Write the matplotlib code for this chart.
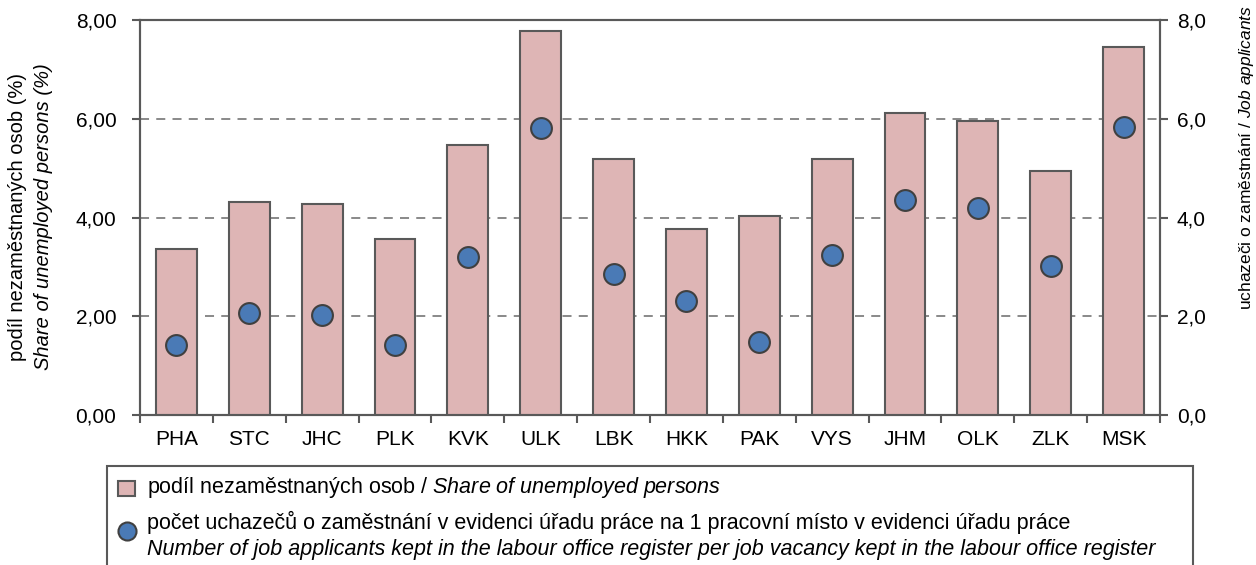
import matplotlib
matplotlib.use("Agg")
import matplotlib.pyplot as plt
from matplotlib.patches import Rectangle
from matplotlib.lines import Line2D
from matplotlib.ticker import FuncFormatter

plt.rcParams['font.family'] = ['Liberation Sans', 'DejaVu Sans']
plt.rcParams['mathtext.fontset'] = 'custom'
plt.rcParams['mathtext.rm'] = 'Liberation Sans'
plt.rcParams['mathtext.it'] = 'Liberation Sans:italic'

# data
regions = ['PHA', 'STC', 'JHC', 'PLK', 'KVK', 'ULK', 'LBK', 'HKK', 'PAK', 'VYS', 'JHM', 'OLK', 'ZLK', 'MSK']
share_unemployed = [3.36, 4.32, 4.28, 3.56, 5.46, 7.78, 5.18, 3.76, 4.04, 5.18, 6.12, 5.95, 4.94, 7.45]
applicants_per_vacancy = [1.42, 2.07, 2.03, 1.42, 3.20, 5.82, 2.85, 2.31, 1.48, 3.25, 4.35, 4.20, 3.02, 5.84]

W, H = 1256, 565
fig = plt.figure(figsize=(W / 100, H / 100), dpi=100)
ax = fig.add_axes([140 / W, 1 - 415 / H, 1020 / W, 395 / H])
ax2 = ax.twinx()

spine_c = '#595959'
x = list(range(len(regions)))

ax.bar(x, share_unemployed, width=0.56, color='#DEB5B5', edgecolor=spine_c, linewidth=1.5, zorder=3)
ax2.plot(x, applicants_per_vacancy, 'o', markersize=15, markerfacecolor='#4A7AB6',
         markeredgecolor='#404040', markeredgewidth=1.5, zorder=4)

for a in (ax, ax2):
    a.set_xlim(-0.5, len(regions) - 0.5)
    a.set_ylim(0, 8)
    a.set_yticks([0, 2, 4, 6, 8])
    for s in a.spines.values():
        s.set_color(spine_c)
        s.set_linewidth(1.5)

ax.yaxis.set_major_formatter(FuncFormatter(lambda v, p: f'{v:.2f}'.replace('.', ',')))
ax2.yaxis.set_major_formatter(FuncFormatter(lambda v, p: f'{v:.1f}'.replace('.', ',')))
ax.tick_params(axis='y', labelsize=15, length=6, width=1.5, color=spine_c, pad=11)
ax2.tick_params(axis='y', labelsize=15, length=6, width=1.5, color=spine_c, pad=6)

ax.set_xticks(x)
ax.set_xticklabels(regions)
ax.set_xticks([i - 0.5 for i in range(len(regions) + 1)], minor=True)
ax.tick_params(axis='x', which='major', length=0, labelsize=15, pad=11)
ax.tick_params(axis='x', which='minor', length=6, width=1.5, color=spine_c)

ax.yaxis.grid(True, linestyle=(0, (5, 4)), color='#808080', linewidth=1.3, zorder=0)
ax.set_axisbelow(True)

# axis titles
fig.text(18 / W, 1 - 217 / H, 'podíl nezaměstnaných osob (%)', rotation=90,
         ha='center', va='center', fontsize=14.5)
fig.text(44 / W, 1 - 217 / H, 'Share of unemployed persons (%)', rotation=90,
         ha='center', va='center', fontsize=14.5, style='italic')
fig.text(1247 / W, 1 - 158 / H, r'uchazeči o zaměstnání / $\it{Job\ applicants}$', rotation=90,
         ha='center', va='center', fontsize=12.5)

# legend box
fig.add_artist(Rectangle((107 / W, -0.1), 1086 / W, 0.1 + (1 - 466 / H), transform=fig.transFigure,
                         facecolor='white', edgecolor=spine_c, linewidth=1.5))
fig.add_artist(Rectangle((118 / W, 1 - 496 / H), 17 / W, 15 / H, transform=fig.transFigure,
                         facecolor='#DEB5B5', edgecolor=spine_c, linewidth=1.5))
fig.add_artist(Line2D([127 / W], [1 - 531 / H], transform=fig.transFigure, marker='o', markersize=13,
                      markerfacecolor='#4A7AB6', markeredgecolor='#404040', markeredgewidth=1.5))
fig.text(147 / W, 1 - 488 / H, r'podíl nezaměstnaných osob / $\it{Share\ of\ unemployed\ persons}$',
         ha='left', va='center', fontsize=15.5)
fig.text(147 / W, 1 - 522 / H,
         'počet uchazečů o zaměstnání v evidenci úřadu práce na 1 pracovní místo v evidenci úřadu práce',
         ha='left', va='center', fontsize=15.5)
fig.text(147 / W, 1 - 549 / H,
         'Number of job applicants kept in the labour office register per job vacancy kept in the labour office register',
         ha='left', va='center', fontsize=15.5, style='italic')

fig.savefig('out.png', dpi=100)
